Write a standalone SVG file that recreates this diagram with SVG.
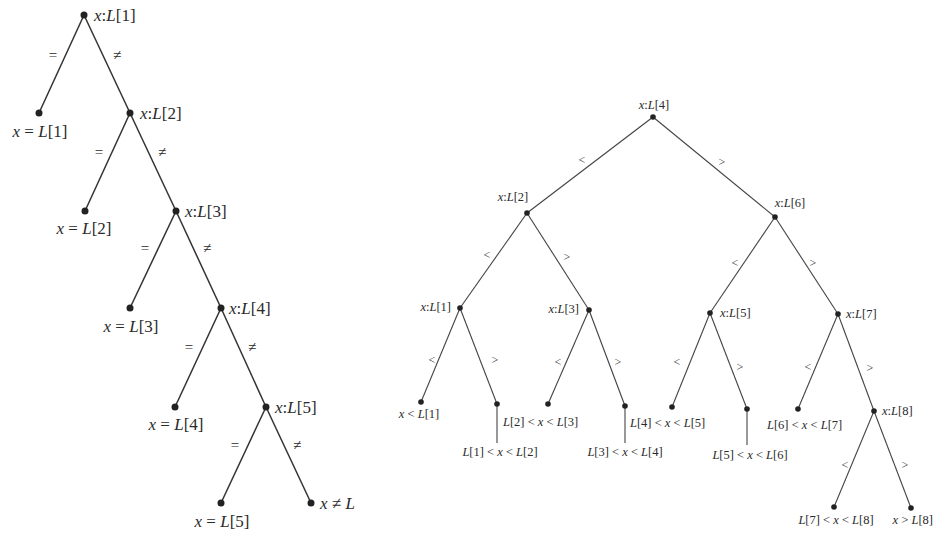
<svg xmlns="http://www.w3.org/2000/svg" width="935" height="535" viewBox="0 0 935 535">
<style>
text{font-family:"Liberation Serif","DejaVu Serif",serif;fill:#2a2a2a}
.l{font-size:17px}
.r{font-size:12.5px}
.e{font-size:15px;text-anchor:middle}
.er{font-size:12px;text-anchor:middle}
.i{font-style:italic}
.m{text-anchor:middle}
.end{text-anchor:end}
.cl line{stroke:#333;stroke-width:1.5}
.cr line{stroke:#444;stroke-width:1.1}
.dl{fill:#222}
.dr{fill:#222}
</style>
<rect width="935" height="535" fill="#fff"/>
<g id="connectors">
<g class="cl">
<line x1="84" y1="15" x2="39" y2="113"/>
<line x1="84" y1="15" x2="130" y2="113"/>
<line x1="130" y1="113" x2="85" y2="211"/>
<line x1="130" y1="113" x2="176" y2="211"/>
<line x1="176" y1="211" x2="130" y2="308"/>
<line x1="176" y1="211" x2="221" y2="308"/>
<line x1="221" y1="308" x2="175" y2="407"/>
<line x1="221" y1="308" x2="266" y2="407"/>
<line x1="266" y1="407" x2="221" y2="503"/>
<line x1="266" y1="407" x2="311" y2="503"/>
</g>
<g class="cr">
<line x1="653" y1="117" x2="527" y2="213"/>
<line x1="653" y1="117" x2="775" y2="217"/>
<line x1="527" y1="213" x2="460" y2="308"/>
<line x1="527" y1="213" x2="589" y2="310"/>
<line x1="775" y1="217" x2="710" y2="313"/>
<line x1="775" y1="217" x2="838" y2="314"/>
<line x1="460" y1="308" x2="421" y2="402"/>
<line x1="460" y1="308" x2="497" y2="404"/>
<line x1="589" y1="310" x2="548" y2="404"/>
<line x1="589" y1="310" x2="625" y2="406"/>
<line x1="710" y1="313" x2="672" y2="407"/>
<line x1="710" y1="313" x2="747" y2="409"/>
<line x1="838" y1="314" x2="798" y2="409"/>
<line x1="838" y1="314" x2="874" y2="411"/>
<line x1="874" y1="411" x2="834" y2="507"/>
<line x1="874" y1="411" x2="911" y2="508"/>
<line x1="497" y1="404" x2="497" y2="443"/>
<line x1="625" y1="406" x2="625" y2="443"/>
<line x1="747" y1="409" x2="747" y2="445"/>
</g>
<g id="edge-labels">
<text class="e" x="53" y="60">=</text><text class="e" x="117" y="60">≠</text>
<text class="e" x="99" y="157">=</text><text class="e" x="162" y="157">≠</text>
<text class="e" x="145" y="253">=</text><text class="e" x="207" y="253">≠</text>
<text class="e" x="189" y="352">=</text><text class="e" x="252" y="352">≠</text>
<text class="e" x="235" y="450">=</text><text class="e" x="297" y="450">≠</text>
<text class="er" x="582" y="164">&lt;</text><text class="er" x="722" y="166">&gt;</text>
<text class="er" x="487" y="259">&lt;</text><text class="er" x="567" y="261">&gt;</text>
<text class="er" x="735" y="267">&lt;</text><text class="er" x="813" y="267">&gt;</text>
<text class="er" x="432" y="364">&lt;</text><text class="er" x="495" y="364">&gt;</text>
<text class="er" x="558" y="366">&lt;</text><text class="er" x="618" y="366">&gt;</text>
<text class="er" x="677" y="366">&lt;</text><text class="er" x="740" y="371">&gt;</text>
<text class="er" x="808" y="371">&lt;</text><text class="er" x="870" y="372">&gt;</text>
<text class="er" x="845" y="469">&lt;</text><text class="er" x="905" y="469">&gt;</text>
</g>
</g>
<g id="L1"><circle class="dl" cx="84" cy="15" r="3.5"/><text class="l" x="94" y="21"><tspan class="i">x</tspan>:<tspan class="i">L</tspan>[1]</text></g>
<g id="eq1"><circle class="dl" cx="39" cy="113" r="3.5"/><text class="l m" x="40" y="137"><tspan class="i">x</tspan> = <tspan class="i">L</tspan>[1]</text></g>
<g id="L2"><circle class="dl" cx="130" cy="113" r="3.5"/><text class="l" x="140" y="119"><tspan class="i">x</tspan>:<tspan class="i">L</tspan>[2]</text></g>
<g id="eq2"><circle class="dl" cx="85" cy="211" r="3.5"/><text class="l m" x="84" y="234"><tspan class="i">x</tspan> = <tspan class="i">L</tspan>[2]</text></g>
<g id="L3"><circle class="dl" cx="176" cy="211" r="3.5"/><text class="l" x="185" y="217"><tspan class="i">x</tspan>:<tspan class="i">L</tspan>[3]</text></g>
<g id="eq3"><circle class="dl" cx="130" cy="308" r="3.5"/><text class="l m" x="131" y="332"><tspan class="i">x</tspan> = <tspan class="i">L</tspan>[3]</text></g>
<g id="L4"><circle class="dl" cx="221" cy="308" r="3.5"/><text class="l" x="229" y="314"><tspan class="i">x</tspan>:<tspan class="i">L</tspan>[4]</text></g>
<g id="eq4"><circle class="dl" cx="175" cy="407" r="3.5"/><text class="l m" x="176" y="430"><tspan class="i">x</tspan> = <tspan class="i">L</tspan>[4]</text></g>
<g id="L5"><circle class="dl" cx="266" cy="407" r="3.5"/><text class="l" x="275" y="413"><tspan class="i">x</tspan>:<tspan class="i">L</tspan>[5]</text></g>
<g id="eq5"><circle class="dl" cx="221" cy="503" r="3.5"/><text class="l m" x="222" y="527"><tspan class="i">x</tspan> = <tspan class="i">L</tspan>[5]</text></g>
<g id="neq"><circle class="dl" cx="311" cy="503" r="3.5"/><text class="l" x="320" y="509"><tspan class="i">x</tspan> ≠ <tspan class="i">L</tspan></text></g>

<g id="R4"><circle class="dr" cx="653" cy="117" r="2.8"/><text class="r m" x="654" y="109"><tspan class="i">x</tspan>:<tspan class="i">L</tspan>[4]</text></g>
<g id="R2"><circle class="dr" cx="527" cy="213" r="2.8"/><text class="r m" x="513" y="201"><tspan class="i">x</tspan>:<tspan class="i">L</tspan>[2]</text></g>
<g id="R6"><circle class="dr" cx="775" cy="217" r="2.8"/><text class="r m" x="790" y="207"><tspan class="i">x</tspan>:<tspan class="i">L</tspan>[6]</text></g>
<g id="R1"><circle class="dr" cx="460" cy="308" r="2.8"/><text class="r end" x="451" y="311"><tspan class="i">x</tspan>:<tspan class="i">L</tspan>[1]</text></g>
<g id="R3"><circle class="dr" cx="589" cy="310" r="2.8"/><text class="r end" x="579" y="313"><tspan class="i">x</tspan>:<tspan class="i">L</tspan>[3]</text></g>
<g id="R5"><circle class="dr" cx="710" cy="313" r="2.8"/><text class="r" x="720" y="317"><tspan class="i">x</tspan>:<tspan class="i">L</tspan>[5]</text></g>
<g id="R7"><circle class="dr" cx="838" cy="314" r="2.8"/><text class="r" x="846" y="318"><tspan class="i">x</tspan>:<tspan class="i">L</tspan>[7]</text></g>
<g id="R8"><circle class="dr" cx="874" cy="411" r="2.8"/><text class="r" x="882" y="415"><tspan class="i">x</tspan>:<tspan class="i">L</tspan>[8]</text></g>
<g id="leaf0"><circle class="dr" cx="421" cy="402" r="2.8"/><text class="r m" x="419" y="418"><tspan class="i">x</tspan> &lt; <tspan class="i">L</tspan>[1]</text></g>
<g id="leaf1"><circle class="dr" cx="497" cy="404" r="2.8"/><text class="r m" x="500" y="456"><tspan class="i">L</tspan>[1] &lt; <tspan class="i">x</tspan> &lt; <tspan class="i">L</tspan>[2]</text></g>
<g id="leaf2"><circle class="dr" cx="548" cy="404" r="2.8"/><text class="r" x="503" y="426"><tspan class="i">L</tspan>[2] &lt; <tspan class="i">x</tspan> &lt; <tspan class="i">L</tspan>[3]</text></g>
<g id="leaf3"><circle class="dr" cx="625" cy="406" r="2.8"/><text class="r m" x="625" y="456"><tspan class="i">L</tspan>[3] &lt; <tspan class="i">x</tspan> &lt; <tspan class="i">L</tspan>[4]</text></g>
<g id="leaf4"><circle class="dr" cx="672" cy="407" r="2.8"/><text class="r" x="630" y="427"><tspan class="i">L</tspan>[4] &lt; <tspan class="i">x</tspan> &lt; <tspan class="i">L</tspan>[5]</text></g>
<g id="leaf5"><circle class="dr" cx="747" cy="409" r="2.8"/><text class="r m" x="750" y="459"><tspan class="i">L</tspan>[5] &lt; <tspan class="i">x</tspan> &lt; <tspan class="i">L</tspan>[6]</text></g>
<g id="leaf6"><circle class="dr" cx="798" cy="409" r="2.8"/><text class="r" x="767" y="429"><tspan class="i">L</tspan>[6] &lt; <tspan class="i">x</tspan> &lt; <tspan class="i">L</tspan>[7]</text></g>
<g id="leaf7"><circle class="dr" cx="834" cy="507" r="2.8"/><text class="r m" x="836" y="524"><tspan class="i">L</tspan>[7] &lt; <tspan class="i">x</tspan> &lt; <tspan class="i">L</tspan>[8]</text></g>
<g id="leaf8"><circle class="dr" cx="911" cy="508" r="2.8"/><text class="r end" x="933" y="524"><tspan class="i">x</tspan> &gt; <tspan class="i">L</tspan>[8]</text></g>
</svg>
